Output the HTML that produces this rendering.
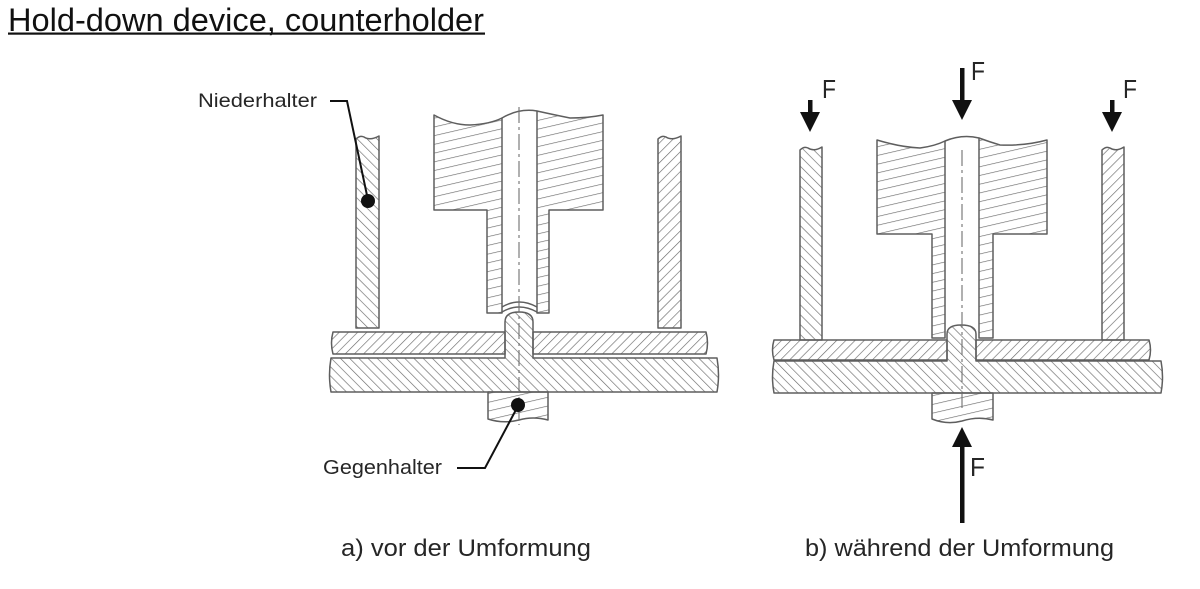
<!DOCTYPE html>
<html>
<head>
<meta charset="utf-8">
<style>
  html, body { margin:0; padding:0; background:#ffffff; }
  body { width:1200px; height:589px; overflow:hidden; }
  svg { display:block; }
  text { font-family: "Liberation Sans", Arial, sans-serif; }
</style>
</head>
<body>
<svg width="1200" height="589" viewBox="0 0 1200 589" xmlns="http://www.w3.org/2000/svg">
  <defs>
    <pattern id="hs" width="7" height="7" patternUnits="userSpaceOnUse" patternTransform="rotate(45)">
      <line x1="0" y1="0" x2="0" y2="7" stroke="#6a6a6a" stroke-width="1.3"/>
    </pattern>
    <pattern id="hb" width="7" height="7" patternUnits="userSpaceOnUse" patternTransform="rotate(-45)">
      <line x1="0" y1="0" x2="0" y2="7" stroke="#6a6a6a" stroke-width="1.3"/>
    </pattern>
    <pattern id="hs6" width="6.5" height="6.5" patternUnits="userSpaceOnUse" patternTransform="rotate(45)">
      <line x1="0" y1="0" x2="0" y2="6.5" stroke="#6a6a6a" stroke-width="1.3"/>
    </pattern>
    <pattern id="hb6" width="6.5" height="6.5" patternUnits="userSpaceOnUse" patternTransform="rotate(-45)">
      <line x1="0" y1="0" x2="0" y2="6.5" stroke="#6a6a6a" stroke-width="1.3"/>
    </pattern>
    <pattern id="hp" width="9" height="8.5" patternUnits="userSpaceOnUse" patternTransform="rotate(-13)">
      <line x1="0" y1="0" x2="9" y2="0" stroke="#6a6a6a" stroke-width="1.3"/>
    </pattern>
  </defs>

  <!-- Title -->
  <text x="8" y="31" font-size="32" fill="#111" textLength="476" lengthAdjust="spacingAndGlyphs">Hold-down device, counterholder</text>
  <rect x="8" y="32.5" width="477" height="2.2" fill="#111"/>

  <g stroke="#5e5e5e" stroke-width="1.5" stroke-linejoin="round">
    <!-- ===== Left diagram (a) ===== -->
    <path d="M356,328 V139 Q360,135 364,137 Q370,141 379,136 V328 Z" fill="url(#hb)"/>
    <path d="M658,328 V139 Q662,135 666,137 Q672,141 681,136 V328 Z" fill="url(#hs)"/>

    <path d="M434,210 V115 Q452,125 470,125 Q490,124 502,118 V313 H487 V210 Z" fill="url(#hp)"/>
    <path d="M537,111 Q555,115 570,118 Q588,118 603,115 V210 H549 V313 H537 Z" fill="url(#hp)"/>
    <path d="M502,118 Q519,108 537,111" fill="none"/>
    <path d="M502,307 Q519,297 537,307" fill="none"/>
    <path d="M502,312 Q519,302 537,312" fill="none"/>

    <path d="M333,332 H505 V354 H333 Q330,343 333,332 Z" fill="url(#hs6)"/>
    <path d="M533,332 H706 Q709,343 706,354 H533 Z" fill="url(#hs6)"/>
    <path d="M331,358 H505 V322 Q505,312 519,312 Q533,312 533,322 V358 H717 Q720,375 717,392 H331 Q328,375 331,358 Z" fill="url(#hb6)"/>
    <path d="M488,392 H548 V420 Q533,416 519,420 Q503,424 488,419 Z" fill="url(#hp)"/>

    <!-- ===== Right diagram (b) ===== -->
    <path d="M800,340 V150 Q804,146 808,148 Q814,152 822,147 V340 Z" fill="url(#hb)"/>
    <path d="M1102,340 V150 Q1106,146 1110,148 Q1116,152 1124,147 V340 Z" fill="url(#hs)"/>

    <path d="M877,234 V140 Q900,147 920,148 Q935,146 945,141 V338 H932 V234 Z" fill="url(#hp)"/>
    <path d="M979,138 Q990,142 1000,145 Q1025,146 1047,140 V234 H993 V338 H979 Z" fill="url(#hp)"/>
    <path d="M945,141 Q962,134 979,138" fill="none"/>

    <path d="M774,340 H947 V360 H774 Q771,350 774,340 Z" fill="url(#hs6)"/>
    <path d="M976,340 H1149 Q1152,350 1149,360 H976 Z" fill="url(#hs6)"/>
    <path d="M774,361 H947 V334 Q947,325 961,325 Q976,325 976,334 V361 H1161 Q1164,377 1161,393 H774 Q771,377 774,361 Z" fill="url(#hb6)"/>
    <path d="M932,393 H993 V420 Q978,416 962,421 Q947,425 932,419 Z" fill="url(#hp)"/>
  </g>

  <!-- center lines -->
  <path d="M519,107 V425" stroke="#707070" stroke-width="1.1" stroke-dasharray="16 4 3 4" fill="none"/>
  <path d="M962,150 V408" stroke="#707070" stroke-width="1.1" stroke-dasharray="16 4 3 4" fill="none"/>

  <!-- Leaders -->
  <g stroke="#111" stroke-width="2" fill="none">
    <path d="M330,101 H347 L368,200"/>
    <path d="M457,468 H485 L518,406"/>
  </g>
  <circle cx="368" cy="201" r="7" fill="#111"/>
  <circle cx="518" cy="405" r="7" fill="#111"/>

  <!-- Force arrows -->
  <g fill="#111">
    <rect x="808" y="100" width="4.5" height="14"/>
    <polygon points="800,112 820,112 810,132"/>
    <rect x="960" y="68" width="4.5" height="34"/>
    <polygon points="952,100 972,100 962,120"/>
    <rect x="1110" y="100" width="4.5" height="14"/>
    <polygon points="1102,112 1122,112 1112,132"/>
    <rect x="960" y="445" width="4.5" height="78"/>
    <polygon points="952,447 972,447 962,427"/>
  </g>

  <!-- Labels -->
  <g fill="#262626">
    <text x="822" y="98" font-size="26" textLength="14" lengthAdjust="spacingAndGlyphs">F</text>
    <text x="971" y="80" font-size="26" textLength="14" lengthAdjust="spacingAndGlyphs">F</text>
    <text x="1123" y="98" font-size="26" textLength="14" lengthAdjust="spacingAndGlyphs">F</text>
    <text x="970" y="476" font-size="26" textLength="15" lengthAdjust="spacingAndGlyphs">F</text>

    <text x="198" y="107" font-size="19.5" textLength="119" lengthAdjust="spacingAndGlyphs">Niederhalter</text>
    <text x="323" y="474" font-size="20" textLength="119" lengthAdjust="spacingAndGlyphs">Gegenhalter</text>

    <text x="341" y="556" font-size="24.5" textLength="250" lengthAdjust="spacingAndGlyphs">a) vor der Umformung</text>
    <text x="805" y="556" font-size="24.5" textLength="309" lengthAdjust="spacingAndGlyphs">b) während der Umformung</text>
  </g>
</svg>
</body>
</html>
